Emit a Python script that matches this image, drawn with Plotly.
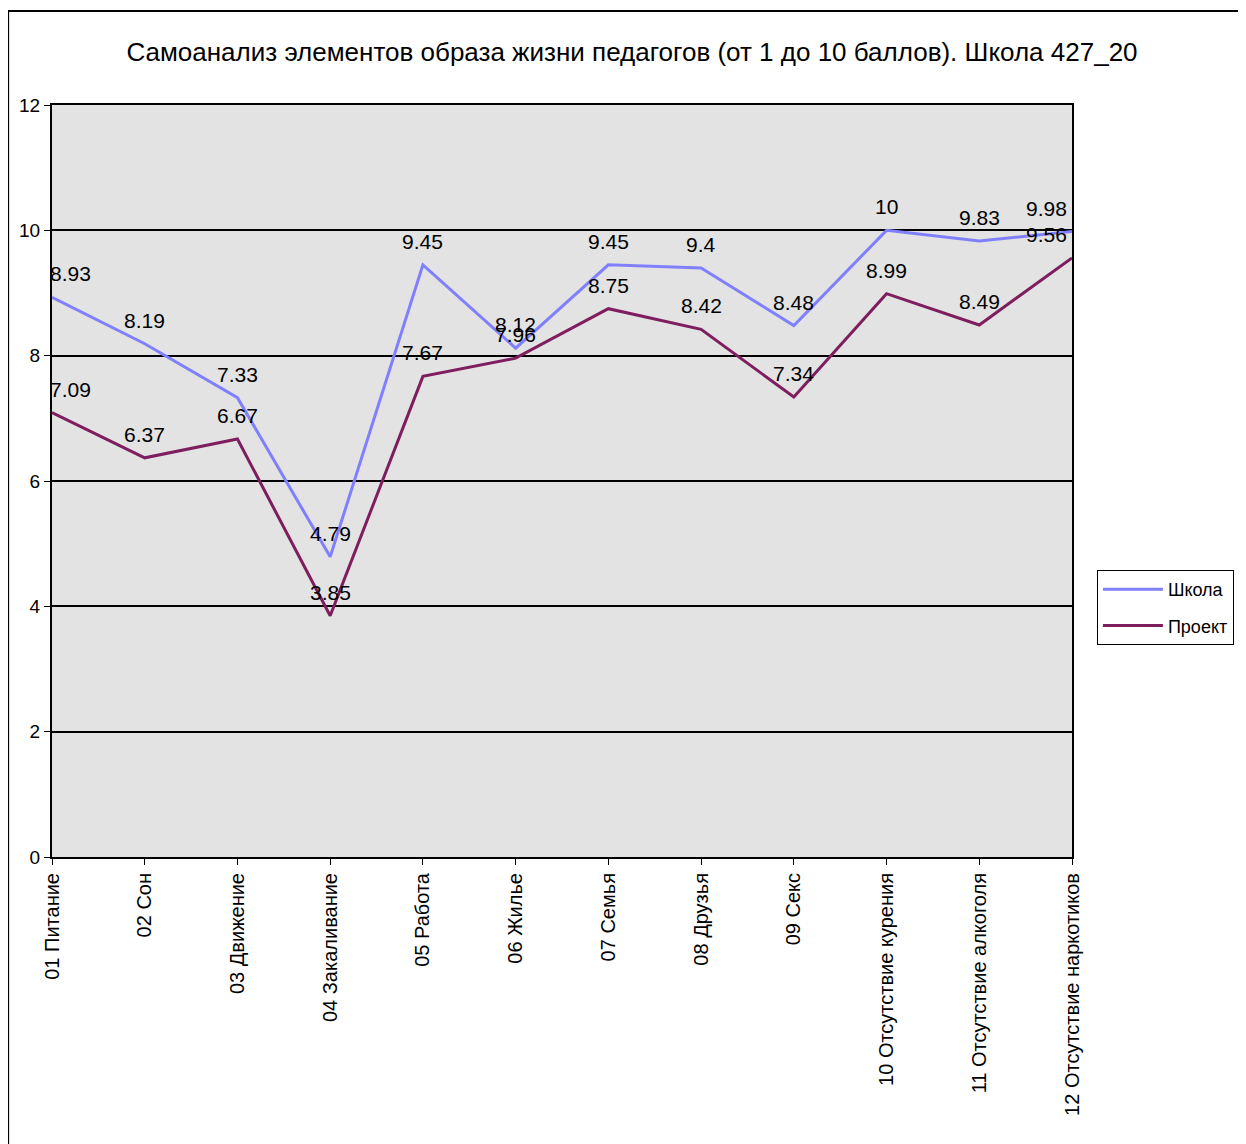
import plotly.graph_objects as go

categories = ["01 Питание", "02 Сон", "03 Движение", "04 Закаливание", "05 Работа",
              "06 Жилье", "07 Семья", "08 Друзья", "09 Секс",
              "10 Отсутствие курения", "11 Отсутствие алкоголя", "12 Отсутствие наркотиков"]
school = [8.93, 8.19, 7.33, 4.79, 9.45, 8.12, 9.45, 9.4, 8.48, 10, 9.83, 9.98]
project = [7.09, 6.37, 6.67, 3.85, 7.67, 7.96, 8.75, 8.42, 7.34, 8.99, 8.49, 9.56]
series_names = ["Школа", "Проект"]
y_ticks = [0, 2, 4, 6, 8, 10, 12]

FONT = "Liberation Sans, Arial, sans-serif"
colors = ["#8080FF", "#7E1E5E"]

W, H = 1238, 1136
L, T, PW, PH = 44, 97, 1023, 752

fig = go.Figure()
for name, vals, col in zip(series_names, [school, project], colors):
    fig.add_trace(go.Scatter(x=categories, y=vals, mode="lines", name=name,
                             legendgroup=name,
                             line=dict(color=col, width=3)))

annotations = []
n = len(categories)
for vals in [school, project]:
    for i, (c, v) in enumerate(zip(categories, vals)):
        if i == 0:
            xa, xs = "left", -4
        elif i == n - 1:
            xa, xs = "right", -3
        else:
            xa, xs = "center", 0
        annotations.append(dict(x=c, y=v, xref="x", yref="y", text=f"{v:g}",
                                showarrow=False, yanchor="bottom", yshift=10,
                                xanchor=xa, xshift=xs,
                                font=dict(family=FONT, size=21, color="#000000")))

fig.update_layout(
    width=W, height=H,
    margin=dict(l=L, r=W - L - PW, t=T, b=H - T - PH),
    paper_bgcolor="white", plot_bgcolor="#E3E3E3",
    title=dict(text="Самоанализ элементов образа жизни педагогов (от 1 до 10 баллов). Школа 427_20",
               x=624 / W, xanchor="center", y=1 - 44 / H, yanchor="middle",
               font=dict(family=FONT, size=26, color="#000000")),
    font=dict(family=FONT, size=19, color="#000000"),
    showlegend=True,
    legend=dict(x=(1092 - L) / PW, xanchor="left", y=(T + PH - 562) / PH, yanchor="top",
                bordercolor="#000000", borderwidth=1, bgcolor="white",
                font=dict(family=FONT, size=18), tracegroupgap=10,
                traceorder="grouped", itemwidth=60),
    annotations=annotations,
    shapes=[dict(type="rect", xref="paper", yref="paper",
                 x0=-L / PW, x1=1.5, y0=-0.6, y1=1 + (T - 3) / PH,
                 line=dict(color="#000000", width=2), fillcolor="rgba(0,0,0,0)",
                 layer="below")],
)
fig.update_xaxes(type="category", range=[0, 11], showgrid=False,
                 showline=True, linecolor="#000000", linewidth=2, mirror=True,
                 ticks="outside", ticklen=6, tickcolor="#000000",
                 tickangle=-90, tickfont=dict(family=FONT, size=20))
fig.update_yaxes(range=[0, 12], tickvals=y_ticks, showgrid=True,
                 gridcolor="#000000", gridwidth=1.5,
                 showline=True, linecolor="#000000", linewidth=2, mirror=True,
                 ticks="outside", ticklen=6, tickcolor="#000000",
                 tickfont=dict(family=FONT, size=19), zeroline=False)

fig.write_html("out.html")
